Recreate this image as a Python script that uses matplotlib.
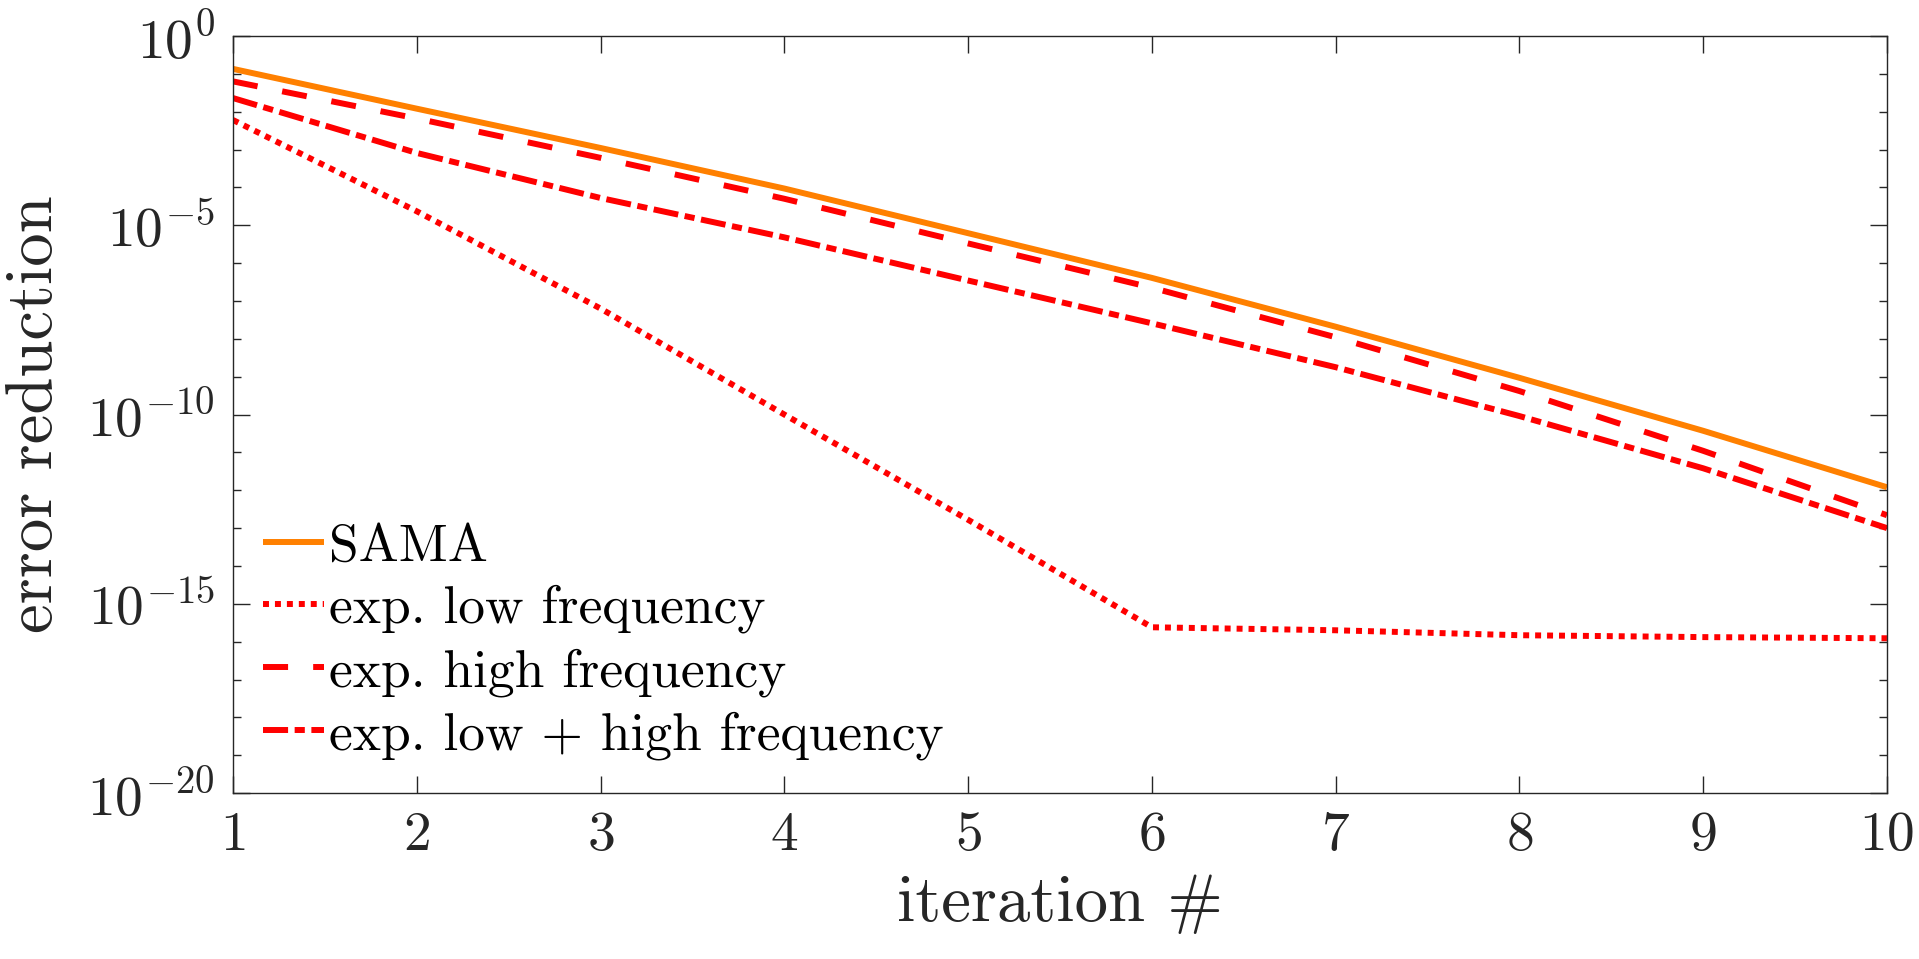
import matplotlib
matplotlib.use('Agg')
import matplotlib.pyplot as plt
import numpy as np
from matplotlib.ticker import FixedLocator, FuncFormatter, NullFormatter

plt.rcParams['font.family'] = 'cmr10'
plt.rcParams['mathtext.fontset'] = 'cm'
plt.rcParams['axes.formatter.use_mathtext'] = True

# values (log scale)
iterations = [1, 2, 3, 4, 5, 6, 7, 8, 9, 10]
sama = [1.35e-1, 1.20e-2, 1.10e-3, 9.33e-5, 6.17e-6, 4.07e-7, 2.09e-8, 9.33e-10, 3.72e-11, 1.20e-12]
exp_low = [6.03e-3, 2.34e-5, 6.31e-8, 1.0e-10, 1.66e-13, 2.40e-16, 2.0e-16, 1.48e-16, 1.32e-16, 1.23e-16]
exp_high = [6.31e-2, 6.61e-3, 6.03e-4, 5.01e-5, 3.31e-6, 2.24e-7, 1.10e-8, 4.17e-10, 1.10e-11, 2.19e-13]
exp_both = [2.29e-2, 8.13e-4, 5.25e-5, 4.79e-6, 3.47e-7, 2.57e-8, 1.78e-9, 9.12e-11, 3.80e-12, 1.0e-13]

ytick_major = [1e-20, 1e-15, 1e-10, 1e-5, 1e0]
ytick_minor = [10.0 ** k for k in range(-20, 1)]

dark = '#262626'
lw = 4.3

fig = plt.figure(figsize=(19.19, 9.59), dpi=100)
ax = fig.add_axes([0.1214, 0.173, 0.8619, 0.7895])

ax.semilogy(iterations, sama, color='#ff8000', lw=lw, label='SAMA', solid_capstyle='butt')
ax.semilogy(iterations, exp_low, color='#ff0000', lw=lw, dashes=(1, 1), dash_capstyle='butt',
            label='exp. low frequency')
ax.semilogy(iterations, exp_high, color='#ff0000', lw=lw, dashes=(4.2, 4.2), dash_capstyle='butt',
            label='exp. high frequency')
ax.semilogy(iterations, exp_both, color='#ff0000', lw=lw, dashes=(4.2, 1.1, 1.7, 1.1), dash_capstyle='butt',
            label='exp. low + high frequency')

ax.set_xlim(1, 10)
ax.set_ylim(1e-20, 1e0)
ax.set_xticks(iterations)
ax.yaxis.set_major_locator(FixedLocator(ytick_major))
ax.yaxis.set_minor_locator(FixedLocator(ytick_minor))
ax.yaxis.set_minor_formatter(NullFormatter())
ax.yaxis.set_major_formatter(FuncFormatter(lambda v, p: r'$10^{%d}$' % round(np.log10(v))))

ax.tick_params(which='both', direction='in', top=True, right=True, color=dark, width=1.0,
               labelcolor=dark, labelsize=40)
ax.tick_params(which='major', length=12, pad=13)
ax.tick_params(which='minor', length=6)
ax.tick_params(axis='x', which='minor', bottom=False, top=False)
for s in ax.spines.values():
    s.set_color(dark)
    s.set_linewidth(1.0)

ax.set_xlabel('iteration #', fontsize=48, color=dark, labelpad=10)
ax.set_ylabel('error reduction', fontsize=48, color=dark, labelpad=16)

# legend without box, bottom left
leg = ax.legend(loc='lower left', bbox_to_anchor=(0.005, 0.016), frameon=False, fontsize=38.5,
                handlelength=1.15, handletextpad=0.1, labelspacing=0.27, borderaxespad=0)
for t in leg.get_texts():
    t.set_color('black')

fig.savefig('out.png', dpi=100)
